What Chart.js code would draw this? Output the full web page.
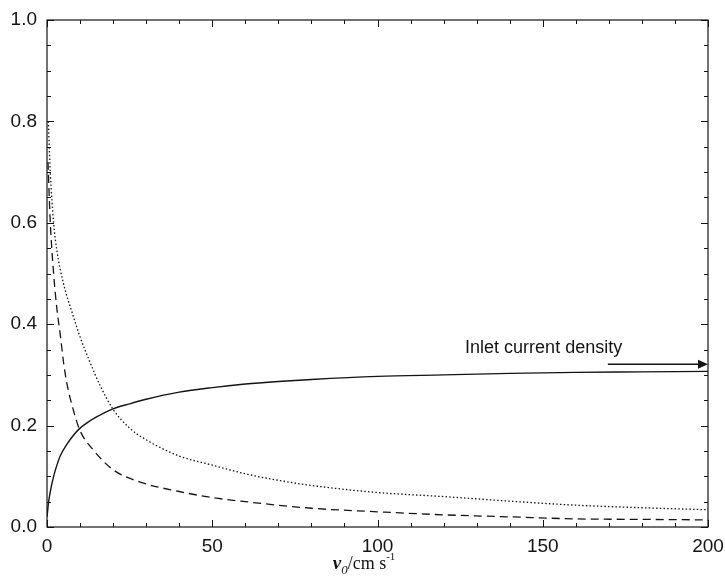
<!DOCTYPE html>
<html>
<head>
<meta charset="utf-8">
<script src="https://cdn.jsdelivr.net/npm/chart.js@4.4.1/dist/chart.umd.min.js"></script>
<style>
  html, body { margin: 0; padding: 0; background: #fff; }
  #wrap { position: relative; width: 725px; height: 578px; }
</style>
</head>
<body>
<div id="wrap"><canvas id="chart" width="725" height="578"></canvas></div>
<script>
// Values
const solidX = [0, 0.5, 1, 2, 3, 4, 6, 8, 10, 12, 15, 20, 25, 30, 40, 50, 60, 70, 80, 100, 120, 140, 160, 180, 200];
const solidY = [0.02, 0.05, 0.07, 0.10, 0.122, 0.14, 0.163, 0.181, 0.195, 0.205, 0.217, 0.233, 0.243, 0.252, 0.266, 0.275, 0.282, 0.287, 0.291, 0.297, 0.300, 0.303, 0.305, 0.306, 0.307];

const dottedX = [0.4, 1, 2, 3, 5, 8, 10, 13, 16, 20, 25, 30, 40, 50, 60, 70, 80, 100, 120, 140, 160, 180, 200];
const dottedY = [0.80, 0.70, 0.60, 0.545, 0.48, 0.415, 0.375, 0.325, 0.28, 0.232, 0.195, 0.172, 0.140, 0.122, 0.105, 0.092, 0.082, 0.068, 0.060, 0.051, 0.043, 0.038, 0.034];

const dashedX = [0.3, 1, 2, 3, 4, 5, 6, 8, 10, 14, 20, 28, 40, 50, 60, 80, 100, 120, 140, 160, 180, 200];
const dashedY = [0.72, 0.60, 0.50, 0.43, 0.38, 0.325, 0.284, 0.23, 0.19, 0.152, 0.113, 0.089, 0.070, 0.058, 0.050, 0.037, 0.030, 0.024, 0.020, 0.016, 0.015, 0.014];

// annotation: label position and arrow (data units)
const noteText = 'Inlet current density';
const notePos = [126.5, 0.3435];
const arrowFrom = [169.7, 0.321];
const arrowTo = [200, 0.321];

const ink = '#141414';
const tickFont = { family: '"Liberation Sans", Arial, sans-serif', size: 19 };

function points(xs, ys) {
    return xs.map((x, i) => ({ x: x, y: ys[i] }));
}

function curve(xs, ys, dash, width) {
    return {
        data: points(xs, ys),
        showLine: true,
        borderColor: ink,
        borderWidth: width,
        borderDash: dash,
        pointRadius: 0,
        cubicInterpolationMode: 'monotone',
        fill: false
    };
}

// Frame, inward ticks on all four sides, annotation and axis title
const decorations = {
    id: 'decorations',
    afterDatasetsDraw(chart) {
        const ctx = chart.ctx;
        const a = chart.chartArea;
        const xs = chart.scales.x;
        const ys = chart.scales.y;
        ctx.save();
        ctx.strokeStyle = ink;
        ctx.lineWidth = 1.2;
        ctx.strokeRect(a.left, a.top, a.right - a.left, a.bottom - a.top);

        ctx.lineWidth = 1;
        ctx.beginPath();
        for (let v = 0; v <= 200; v += 10) {
            const px = Math.round(xs.getPixelForValue(v)) + 0.5;
            const len = v % 50 === 0 ? 7 : 4;
            ctx.moveTo(px, a.bottom); ctx.lineTo(px, a.bottom - len);
            ctx.moveTo(px, a.top); ctx.lineTo(px, a.top + len);
        }
        for (let i = 0; i <= 20; i++) {
            const py = Math.round(ys.getPixelForValue(i * 0.05)) + 0.5;
            const len = i % 4 === 0 ? 7 : 4;
            ctx.moveTo(a.left, py); ctx.lineTo(a.left + len, py);
            ctx.moveTo(a.right, py); ctx.lineTo(a.right - len, py);
        }
        ctx.stroke();

        // annotation
        ctx.fillStyle = ink;
        ctx.font = '18px "Liberation Sans", Arial, sans-serif';
        ctx.textBaseline = 'alphabetic';
        ctx.textAlign = 'left';
        ctx.fillText(noteText, xs.getPixelForValue(notePos[0]), ys.getPixelForValue(notePos[1]));

        const x0 = xs.getPixelForValue(arrowFrom[0]);
        const x1 = xs.getPixelForValue(arrowTo[0]);
        const ay = ys.getPixelForValue(arrowFrom[1]);
        ctx.lineWidth = 1.3;
        ctx.beginPath();
        ctx.moveTo(x0, ay); ctx.lineTo(x1 - 6, ay);
        ctx.stroke();
        ctx.beginPath();
        ctx.moveTo(x1, ay); ctx.lineTo(x1 - 10, ay - 4.5); ctx.lineTo(x1 - 10, ay + 4.5);
        ctx.closePath();
        ctx.fill();

        // x axis title: v0/cm s-1
        const parts = [
            { t: 'v', f: 'italic bold 19px "Liberation Serif", serif', dy: 0 },
            { t: '0', f: 'italic 13px "Liberation Serif", serif', dy: 5 },
            { t: '/cm s', f: '18px "Liberation Serif", serif', dy: 0 },
            { t: '-1', f: '11px "Liberation Serif", serif', dy: -9 }
        ];
        let total = 0;
        parts.forEach(p => { ctx.font = p.f; p.w = ctx.measureText(p.t).width; total += p.w; });
        let tx = 364 - total / 2;
        const base = 569;
        parts.forEach(p => {
            ctx.font = p.f;
            ctx.fillText(p.t, tx, base + p.dy);
            tx += p.w;
        });
        ctx.restore();
    }
};

new Chart(document.getElementById('chart').getContext('2d'), {
    type: 'scatter',
    data: {
        datasets: [
            curve(solidX, solidY, [], 1.4),
            curve(dottedX, dottedY, [1.5, 2.2], 1.3),
            curve(dashedX, dashedY, [8, 5], 1.3)
        ]
    },
    options: {
        responsive: false,
        animation: false,
        events: [],
        layout: { padding: { left: 0, right: 17, top: 20, bottom: 0 } },
        plugins: {
            legend: { display: false },
            tooltip: { enabled: false }
        },
        scales: {
            x: {
                type: 'linear',
                min: 0,
                max: 200,
                ticks: { stepSize: 50, color: ink, font: tickFont, padding: 8, maxRotation: 0 },
                grid: { display: false, drawTicks: false },
                border: { display: false },
                afterFit(scale) {
                    scale.height = 51;
                    scale.paddingLeft = 0;
                    scale.paddingRight = 0;
                }
            },
            y: {
                type: 'linear',
                min: 0,
                max: 1,
                ticks: {
                    stepSize: 0.2,
                    color: ink,
                    font: tickFont,
                    padding: 10,
                    callback: v => v.toFixed(1)
                },
                grid: { display: false, drawTicks: false },
                border: { display: false },
                afterFit(scale) {
                    scale.width = 47;
                    scale.paddingTop = 0;
                    scale.paddingBottom = 0;
                }
            }
        }
    },
    plugins: [decorations]
});
</script>
</body>
</html>
